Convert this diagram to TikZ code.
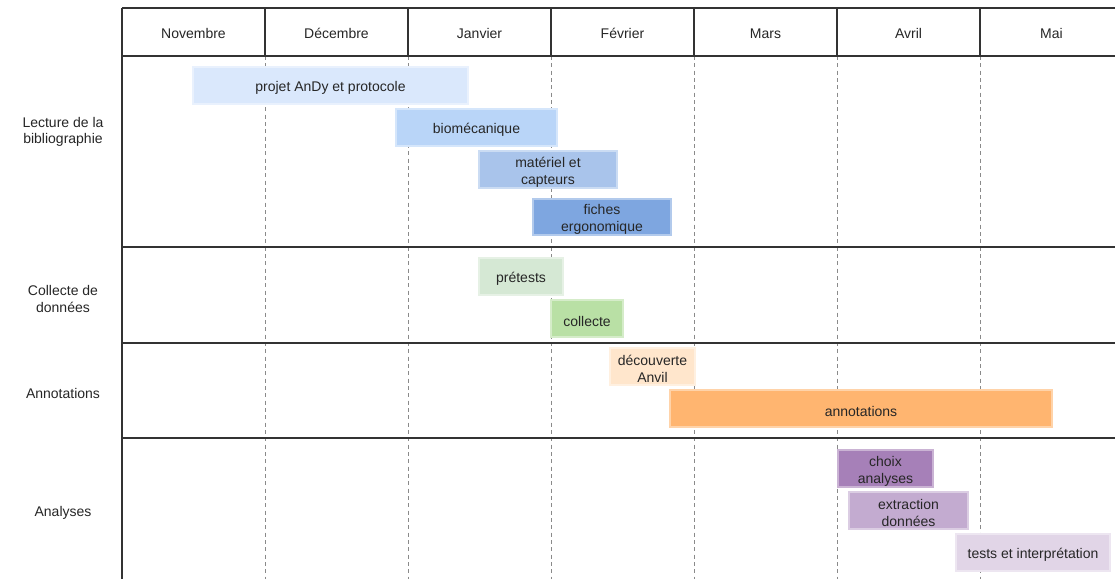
\documentclass[tikz,border=0pt]{standalone}
\usepackage{fontspec}
\setmainfont{Liberation Sans}
\definecolor{gridc}{HTML}{333333}
\definecolor{dashc}{HTML}{8A8A8A}
\definecolor{cA}{HTML}{DAE8FC}
\definecolor{cB}{HTML}{B9D5F8}
\definecolor{cC}{HTML}{A9C4EB}
\definecolor{cD}{HTML}{7EA6E0}
\definecolor{cE}{HTML}{D5E8D4}
\definecolor{cF}{HTML}{B9E0A5}
\definecolor{cG}{HTML}{FFE6CC}
\definecolor{cH}{HTML}{FFB570}
\definecolor{cI}{HTML}{A680B8}
\definecolor{cJ}{HTML}{C3ABD0}
\definecolor{cK}{HTML}{E1D5E7}
\newcommand\ganttbar[7]{%
  \pgfmathsetmacro\gw{(#4-#2)*0.75}%
  \pgfmathsetmacro\gh{(#5-#3)*0.75}%
  \node[bar,fill=#6,draw=#6!60!white,minimum width=\gw pt,minimum height=\gh pt] (#1) at ({(#2+#4)/2},{(#3+#5)/2}) {};
  \node[txt,yshift=-2pt] (#1t) at (#1.center) {#7};}
\begin{document}
\begin{tikzpicture}[x=0.75pt,y=-0.75pt,
  txt/.style={font=\fontsize{10.5}{12.5}\selectfont,text=black!85,align=center},
  frame/.style={draw=gridc,line width=1.1pt},
  gridline/.style={draw=dashc,dashed,dash pattern=on 3pt off 2.5pt,line width=0.6pt},
  bar/.style={inner sep=0pt,line width=0.9pt}]
\useasboundingbox (0,0) rectangle (1115,579);
\fill[white] (0,0) rectangle (1115,579);
% dashed month lines
\foreach \x/\n in {265/a,408/b,551/c,694/d,837/e,980/f}{
  \coordinate (g\n1) at (\x,56);
  \coordinate (g\n2) at (\x,579);
  \draw[gridline] (g\n1) -- (g\n2);
}
% header
\coordinate (tl) at (122,8);
\coordinate (tr) at (1115,8);
\coordinate (hl) at (122,56);
\coordinate (hr) at (1115,56);
\coordinate (bl) at (122,579);
\draw[frame] (tl) -- (tr);
\draw[frame] (hl) -- (hr);
\draw[frame] (tl) -- (bl);
\foreach \x/\n in {265/a,408/b,551/c,694/d,837/e,980/f}{
  \coordinate (h\n1) at (\x,8);
  \coordinate (h\n2) at (\x,56);
  \draw[frame] (h\n1) -- (h\n2);
}
\foreach \y/\n in {247/a,343/b,438/c}{
  \coordinate (r\n1) at (122,\y);
  \coordinate (r\n2) at (1115,\y);
  \draw[frame] (r\n1) -- (r\n2);
}
% month labels
\node[txt] (nov) at (193.5,33.5) {Novembre};
\node[txt] (dec) at (336.5,33.5) {Décembre};
\node[txt] (jan) at (479.5,33.5) {Janvier};
\node[txt] (fev) at (622.5,33.5) {Février};
\node[txt] (mar) at (765.5,33.5) {Mars};
\node[txt] (avr) at (908.5,33.5) {Avril};
\node[txt] (mai) at (1051.5,33.5) {Mai};
% row labels
\node[txt] (lec) at (63,132) {Lecture de la\\bibliographie};
\node[txt] (col) at (63,299) {Collecte de\\données};
\node[txt] (ann) at (63,393) {Annotations};
\node[txt] (anl) at (63,513) {Analyses};
% bars
\ganttbar{b1}{193}{67}{468}{104}{cA}{projet AnDy et protocole}
\ganttbar{b2}{396}{109}{557}{146}{cB}{biomécanique}
\ganttbar{b3}{479}{151}{617}{188}{cC}{matériel et\\capteurs}
\ganttbar{b4}{533}{199}{671}{235}{cD}{fiches\\ergonomique}
\ganttbar{b5}{479}{258}{563}{295}{cE}{prétests}
\ganttbar{b6}{551}{300}{623}{337}{cF}{collecte}
\ganttbar{b7}{610}{348}{695}{385}{cG}{découverte\\Anvil}
\ganttbar{b8}{670}{390}{1052}{427}{cH}{annotations}
\ganttbar{b9}{838}{450}{933}{487}{cI}{choix\\analyses}
\ganttbar{b10}{849}{492}{968}{529}{cJ}{extraction\\données}
\ganttbar{b11}{956}{534}{1110}{571}{cK}{tests et interprétation}
\end{tikzpicture}
\end{document}
